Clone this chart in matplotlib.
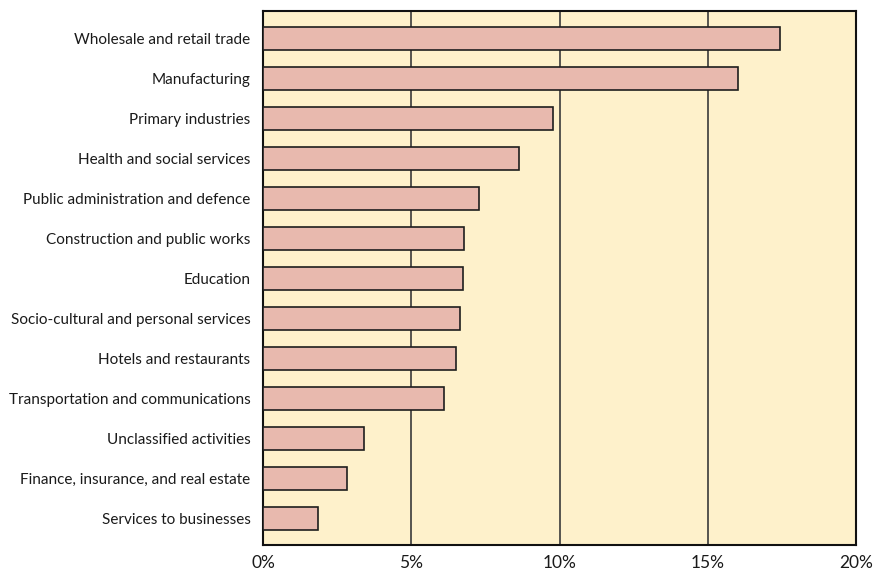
import matplotlib
matplotlib.use('Agg')
import matplotlib.pyplot as plt
from matplotlib.ticker import FuncFormatter

sectors = ['Wholesale and retail trade', 'Manufacturing', 'Primary industries',
           'Health and social services', 'Public administration and defence',
           'Construction and public works', 'Education',
           'Socio-cultural and personal services', 'Hotels and restaurants',
           'Transportation and communications', 'Unclassified activities',
           'Finance, insurance, and real estate', 'Services to businesses']
shares = [17.44, 16.01, 9.78, 8.63, 7.29, 6.79, 6.76, 6.64, 6.50, 6.12, 3.40, 2.82, 1.85]
xticks = [0, 5, 10, 15, 20]

plt.rcParams['font.family'] = ['Lato', 'DejaVu Sans']

fig = plt.figure(figsize=(8.75, 5.72), dpi=100)
ax = fig.add_axes([0.3006, 0.0472, 0.6777, 0.9336])
ax.set_facecolor('#fef1cb')

ypos = list(range(len(sectors)))
ax.barh(ypos, shares, height=0.58, color='#e8b9ae', edgecolor='#1e1e1e',
        linewidth=1.2, zorder=3)

ax.set_xlim(0, 20)
ax.set_ylim(12.67, -0.68)
ax.set_xticks(xticks)
ax.xaxis.set_major_formatter(FuncFormatter(lambda v, p: f'{v:.0f}%'))
ax.set_yticks(ypos)
ax.set_yticklabels(sectors)
ax.tick_params(axis='both', length=0, labelsize=11, colors='#1a1a1a')
ax.tick_params(axis='y', pad=9)
ax.tick_params(axis='x', pad=7, labelsize=12.5)
ax.grid(axis='x', color='#3a3a3a', linewidth=1.2, zorder=1)
for s in ax.spines.values():
    s.set_linewidth(1.5)
    s.set_color('#111111')

fig.savefig('out.png', dpi=100)
